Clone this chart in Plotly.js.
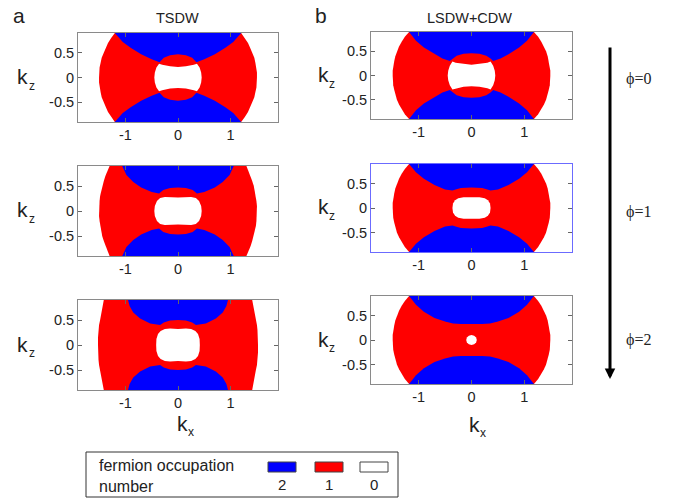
<!DOCTYPE html>
<html>
<head>
<meta charset="utf-8">
<script src="https://cdn.plot.ly/plotly-3.0.1.min.js"></script>
<style>html,body{margin:0;padding:0;background:#fff}#chart{width:692px;height:500px}</style>
</head>
<body>
<div id="chart"></div>
<script>
// ---------- DATA ----------
// Each boundary is one quadrant (kx>=0, kz>=0) of a symmetric region.
// outer*: edge of the occupied (red) region, listed from kz=0.9 down to kz=0
// cap*  : lower edge of the top blue region, listed from kx=0 out to the top edge
// hole* : edge of the empty (white) region, from kx=0 (top) to kz=0 (right)
const panelNames = ['TSDW phi=0','LSDW+CDW phi=0','TSDW phi=1','LSDW+CDW phi=1','TSDW phi=2','LSDW+CDW phi=2'];

const outerKx_a1 = [1.20,1.27,1.33,1.37,1.41,1.45,1.47,1.49,1.50,1.50];
const outerKz_a1 = [0.90,0.80,0.70,0.60,0.50,0.40,0.30,0.20,0.10,0.00];
const capKx_a1   = [0.00,0.15,0.27,0.35,0.50,0.70,0.90,1.05,1.20];
const capKz_a1   = [0.47,0.45,0.40,0.31,0.37,0.47,0.60,0.72,0.90];
const holeKx_a1  = [0.00,0.15,0.30,0.36,0.41,0.44,0.45];
const holeKz_a1  = [0.21,0.225,0.26,0.28,0.20,0.10,0.00];

const outerKx_b1 = [1.18,1.26,1.32,1.37,1.41,1.44,1.46,1.48,1.49,1.49];
const outerKz_b1 = [0.90,0.80,0.70,0.60,0.50,0.40,0.30,0.20,0.10,0.00];
const capKx_b1   = [0.00,0.15,0.28,0.36,0.41,0.55,0.70,0.90,1.05,1.18];
const capKz_b1   = [0.46,0.45,0.41,0.35,0.30,0.35,0.44,0.58,0.72,0.90];
const holeKx_b1  = [0.00,0.15,0.30,0.36,0.41,0.44,0.45];
const holeKz_b1  = [0.22,0.235,0.265,0.29,0.20,0.10,0.00];

const outerKx_a2 = [1.30,1.34,1.38,1.41,1.44,1.46,1.48,1.49,1.50,1.50];
const outerKz_a2 = [0.90,0.80,0.70,0.60,0.50,0.40,0.30,0.20,0.10,0.00];
const capKx_a2   = [0.00,0.15,0.28,0.36,0.50,0.70,0.85,0.98,1.06];
const capKz_a2   = [0.47,0.46,0.42,0.35,0.38,0.47,0.58,0.72,0.90];
const holeKx_a2  = [0.00,0.25,0.34,0.40,0.44,0.45];
const holeKz_a2  = [0.27,0.28,0.26,0.20,0.10,0.00];

const outerKx_b2 = [1.18,1.26,1.32,1.37,1.41,1.44,1.46,1.48,1.49,1.49];
const outerKz_b2 = [0.90,0.80,0.70,0.60,0.50,0.40,0.30,0.20,0.10,0.00];
const capKx_b2   = [0.00,0.20,0.30,0.36,0.50,0.70,0.90,1.05,1.18];
const capKz_b2   = [0.42,0.41,0.38,0.36,0.38,0.47,0.60,0.73,0.90];
const holeKx_b2  = [0.00,0.15,0.25,0.31,0.35,0.36];
const holeKz_b2  = [0.22,0.22,0.20,0.16,0.09,0.00];

const outerKx_a3 = [1.41,1.43,1.44,1.46,1.48,1.50,1.51,1.52,1.52];
const outerKz_a3 = [0.90,0.80,0.70,0.60,0.50,0.40,0.30,0.15,0.00];
const capKx_a3   = [0.00,0.15,0.27,0.34,0.53,0.72,0.85,0.92,0.95];
const capKz_a3   = [0.50,0.49,0.45,0.40,0.43,0.53,0.65,0.78,0.90];
const holeKx_a3  = [0.00,0.15,0.25,0.33,0.38,0.41,0.415];
const holeKz_a3  = [0.32,0.33,0.32,0.28,0.22,0.12,0.00];

const outerKx_b3 = [1.18,1.26,1.32,1.37,1.41,1.44,1.46,1.48,1.49,1.49];
const outerKz_b3 = [0.90,0.80,0.70,0.60,0.50,0.40,0.30,0.20,0.10,0.00];
const capKx_b3   = [0.00,0.20,0.35,0.50,0.70,0.90,1.05,1.18];
const capKz_b3   = [0.32,0.325,0.34,0.38,0.45,0.58,0.72,0.90];
const holeKx_b3  = [0.00,0.05,0.087,0.10];
const holeKz_b3  = [0.10,0.087,0.05,0.00];

const xTickVals = [-1, 0, 1];
const xTickText = ['-1', '0', '1'];
const yTickVals = [-0.5, 0, 0.5];
const yTickText = ['-0.5', '0', '0.5'];
const xRange = [-1.9, 1.9];
const yRange = [-0.9, 0.9];

const columnTitles = ['TSDW', 'LSDW+CDW'];
const columnLetters = ['a', 'b'];
const phiLabels = ['\u03D5=0', '\u03D5=1', '\u03D5=2'];
const occupationValues = ['2', '1', '0'];
const occupationColors = ['#0000ff', '#ff0000', '#ffffff'];
const legendTitleLines = ['fermion occupation', 'number'];

// ---------- helpers to build polygons from the quadrant data ----------
function outerPoly(xs, zs) {
  const X = [], Z = [];
  for (let i = 0; i < xs.length; i++) { X.push(xs[i]); Z.push(zs[i]); }
  for (let i = xs.length - 2; i >= 0; i--) { X.push(xs[i]); Z.push(-zs[i]); }
  for (let i = 0; i < xs.length; i++) { X.push(-xs[i]); Z.push(-zs[i]); }
  for (let i = xs.length - 2; i >= 0; i--) { X.push(-xs[i]); Z.push(zs[i]); }
  X.push(xs[0]); Z.push(zs[0]);
  return [X, Z];
}
function capPoly(xs, zs, sign) {
  const X = [], Z = [];
  for (let i = xs.length - 1; i >= 1; i--) { X.push(-xs[i]); Z.push(sign * zs[i]); }
  for (let i = 0; i < xs.length; i++) { X.push(xs[i]); Z.push(sign * zs[i]); }
  X.push(-xs[xs.length - 1]); Z.push(sign * zs[zs.length - 1]);
  return [X, Z];
}
function holePoly(xs, zs) {
  const X = [], Z = [];
  for (let i = 0; i < xs.length; i++) { X.push(xs[i]); Z.push(zs[i]); }
  for (let i = xs.length - 2; i >= 0; i--) { X.push(xs[i]); Z.push(-zs[i]); }
  for (let i = 1; i < xs.length; i++) { X.push(-xs[i]); Z.push(-zs[i]); }
  for (let i = xs.length - 2; i >= 0; i--) { X.push(-xs[i]); Z.push(zs[i]); }
  return [X, Z];
}

const panels = [
  {o:[outerKx_a1,outerKz_a1], c:[capKx_a1,capKz_a1], h:[holeKx_a1,holeKz_a1], px:[78,278], py:[33,122], frame:'#8a8a8a'},
  {o:[outerKx_b1,outerKz_b1], c:[capKx_b1,capKz_b1], h:[holeKx_b1,holeKz_b1], px:[371,572], py:[32,119], frame:'#8a8a8a'},
  {o:[outerKx_a2,outerKz_a2], c:[capKx_a2,capKz_a2], h:[holeKx_a2,holeKz_a2], px:[78,278], py:[166,256], frame:'#8a8a8a'},
  {o:[outerKx_b2,outerKz_b2], c:[capKx_b2,capKz_b2], h:[holeKx_b2,holeKz_b2], px:[371,572], py:[164,252], frame:'#6b6bff'},
  {o:[outerKx_a3,outerKz_a3], c:[capKx_a3,capKz_a3], h:[holeKx_a3,holeKz_a3], px:[78,278], py:[300,390], frame:'#8a8a8a'},
  {o:[outerKx_b3,outerKz_b3], c:[capKx_b3,capKz_b3], h:[holeKx_b3,holeKz_b3], px:[371,572], py:[296,384], frame:'#8a8a8a'}
];

const W = 692, H = 500;
const px2x = p => p / W;
const px2y = p => 1 - p / H;
const SANS = 'Arial, Liberation Sans, sans-serif';
const SERIF = 'Liberation Serif, Times New Roman, serif';
const traces = [];
const layout = {
  width: W, height: H, margin: {l:0, r:0, t:0, b:0},
  paper_bgcolor: '#ffffff', plot_bgcolor: '#ffffff', showlegend: false,
  annotations: [], shapes: []
};
const tickFont = {family: SANS, size: 14.5, color: '#222'};

function addText(text, x, y, size, family, xanchor) {
  layout.annotations.push({xref:'paper', yref:'paper', x:px2x(x), y:px2y(y), text:text, showarrow:false,
    font:{family:family, size:size, color:'#222'}, xanchor:xanchor || 'center', yanchor:'middle'});
}

panels.forEach((p, i) => {
  const n = i + 1;
  const xa = n === 1 ? 'x' : 'x' + n;
  const ya = n === 1 ? 'y' : 'y' + n;
  const [ox, oz] = outerPoly(p.o[0], p.o[1]);
  traces.push({type:'scatter', mode:'lines', x:ox, y:oz, fill:'toself', fillcolor:occupationColors[1], line:{width:0, color:occupationColors[1]}, xaxis:xa, yaxis:ya, hoverinfo:'skip', name:panelNames[i]});
  const [cx1, cz1] = capPoly(p.c[0], p.c[1], 1);
  traces.push({type:'scatter', mode:'lines', x:cx1, y:cz1, fill:'toself', fillcolor:occupationColors[0], line:{width:0, color:occupationColors[0]}, xaxis:xa, yaxis:ya, hoverinfo:'skip'});
  const [cx2, cz2] = capPoly(p.c[0], p.c[1], -1);
  traces.push({type:'scatter', mode:'lines', x:cx2, y:cz2, fill:'toself', fillcolor:occupationColors[0], line:{width:0, color:occupationColors[0]}, xaxis:xa, yaxis:ya, hoverinfo:'skip'});
  const [hx, hz] = holePoly(p.h[0], p.h[1]);
  traces.push({type:'scatter', mode:'lines', x:hx, y:hz, fill:'toself', fillcolor:occupationColors[2], line:{width:0, color:occupationColors[2]}, xaxis:xa, yaxis:ya, hoverinfo:'skip'});

  const axCommon = {showgrid:false, zeroline:false, showline:true, linecolor:p.frame, linewidth:1,
    ticks:'inside', ticklen:4, tickcolor:'#666', mirror:'allticks', tickfont:tickFont, fixedrange:true};
  layout[n === 1 ? 'xaxis' : 'xaxis' + n] = Object.assign({}, axCommon, {
    domain:[px2x(p.px[0]), px2x(p.px[1])], range:xRange, tickmode:'array', tickvals:xTickVals, ticktext:xTickText, anchor:ya});
  layout[n === 1 ? 'yaxis' : 'yaxis' + n] = Object.assign({}, axCommon, {
    domain:[px2y(p.py[1]), px2y(p.py[0])], range:yRange, tickmode:'array', tickvals:yTickVals, ticktext:yTickText, anchor:xa});

  // kz label: "k" with a small subscript "z"
  const col = i % 2;
  const cy = (p.py[0] + p.py[1]) / 2;
  const kx0 = col === 0 ? 23 : 323;
  addText('k', kx0, cy - 1, 21, SANS);
  addText('z', kx0 + 9, cy + 8, 12, SANS);
});

// column letters & titles
addText(columnLetters[0], 19, 15, 21, SANS);
addText(columnLetters[1], 321, 15, 21, SANS);
addText(columnTitles[0], 177, 18, 14.5, SANS);
addText(columnTitles[1], 469, 18, 14.5, SANS);
// kx labels
addText('k', 182, 423, 21, SANS);
addText('x', 191, 432, 12, SANS);
addText('k', 474, 424, 21, SANS);
addText('x', 483, 433, 12, SANS);

// phi arrow
layout.annotations.push({xref:'paper', yref:'paper', x:px2x(610), y:px2y(379), ax:0, ay:-333, axref:'pixel', ayref:'pixel',
  showarrow:true, arrowhead:2, arrowsize:0.7, arrowwidth:3, arrowcolor:'#000', text:''});
[79, 212, 340].forEach((yy, k) => addText(phiLabels[k], 624, yy, 16, SERIF, 'left'));

// legend box
layout.shapes.push({type:'rect', xref:'paper', yref:'paper', x0:px2x(86), x1:px2x(398), y0:px2y(497), y1:px2y(452),
  line:{color:'#333', width:1}, fillcolor:'rgba(0,0,0,0)'});
legendTitleLines.forEach((t, k) => addText(t, 97, 465 + 21 * k, 16, SANS, 'left'));
const swatchX = [268, 315, 360];
occupationValues.forEach((v, k) => {
  layout.shapes.push({type:'rect', xref:'paper', yref:'paper', x0:px2x(swatchX[k]), x1:px2x(swatchX[k] + 28), y0:px2y(472), y1:px2y(462),
    line:{color:'#444', width:1}, fillcolor:occupationColors[k]});
  addText(v, swatchX[k] + 14, 484, 15, SANS);
});

Plotly.newPlot('chart', traces, layout, {staticPlot:true, displayModeBar:false});
</script>
</body>
</html>
